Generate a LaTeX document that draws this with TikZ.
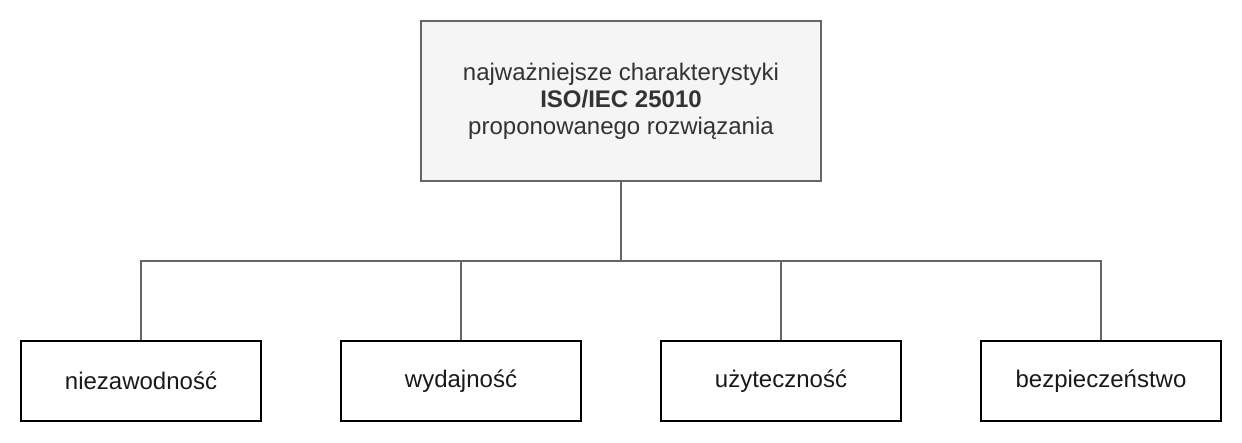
\documentclass[tikz,border=0pt]{standalone}
\usepackage{fontspec}
\setmainfont{Liberation Sans}
\definecolor{topfill}{HTML}{F5F5F5}
\definecolor{topline}{HTML}{666666}
\definecolor{toptext}{HTML}{333333}
\tikzset{
  topbox/.style={draw=topline, fill=topfill, line width=2pt, minimum width=400pt, minimum height=160pt, text=toptext, align=center, inner sep=0pt, font=\fontsize{24}{27}\selectfont},
  leafbox/.style={draw=black, fill=white, line width=2pt, minimum width=240pt, minimum height=80pt, inner sep=0pt, font=\fontsize{24}{27}\selectfont, text=black!90},
  link/.style={draw=topline, line width=2pt}
}
\begin{document}
\begin{tikzpicture}[x=1pt,y=-1pt]
\useasboundingbox (0,0) rectangle (1242,442);
\node[topbox] (top) at (621,101) {najważniejsze charakterystyki\\\textbf{ISO/IEC 25010}\\proponowanego rozwiązania};
\node[leafbox] (a) at (141,381) {niezawodność};
\node[leafbox] (b) at (461,381) {wydajność};
\node[leafbox] (c) at (781,381) {użyteczność};
\node[leafbox] (d) at (1101,381) {bezpieczeństwo};
\coordinate (j) at (621,261);
\draw[link] (top.south) -- (j);
\draw[link] (a.north) |- (j);
\draw[link] (b.north) |- (j);
\draw[link] (c.north) |- (j);
\draw[link] (d.north) |- (j);
\end{tikzpicture}
\end{document}
